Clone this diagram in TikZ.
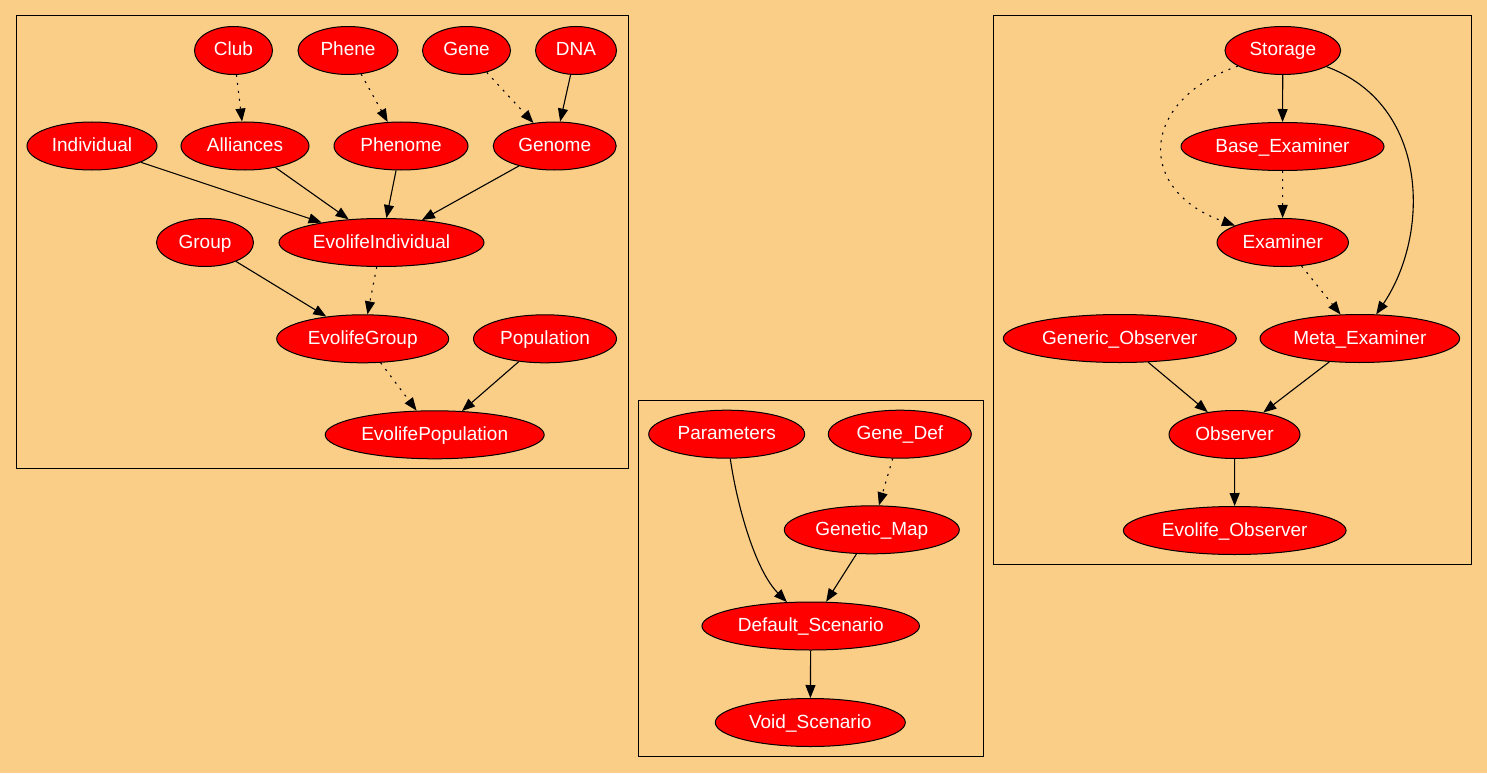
\documentclass[tikz,border=0pt]{standalone}
\usepackage{fontspec}
\setmainfont{Liberation Sans}
\usetikzlibrary{arrows.meta,shapes.geometric}
\definecolor{bgc}{RGB}{251,206,135}
\begin{document}
\begin{tikzpicture}[x=1pt,y=-1pt,
  nd/.style={ellipse, draw=black, line width=1pt, fill=red, text=white, inner sep=0pt,
    minimum height=48pt, text height=13.8pt, text depth=2.8pt,
    font=\fontsize{19}{22}\selectfont},
  ed/.style={line width=1.1pt, -{Triangle[length=13pt,width=10pt]}},
  dt/.style={ed, dash pattern=on 2pt off 6pt},
  cl/.style={draw=black, line width=0.9pt}]
\fill[bgc] (0,0) rectangle (1487,773);
\useasboundingbox (0,0) rectangle (1487,773);
% clusters
\draw[cl] (16,15) rectangle (628,468);
\draw[cl] (638,400) rectangle (983.7,756.7);
\draw[cl] (993.3,15) rectangle (1471,564.3);
% cluster 1 nodes
\node[nd, minimum width=78pt] (club) at (233.5,50.5) {Club};
\node[nd, minimum width=100pt] (phene) at (348,50.5) {Phene};
\node[nd, minimum width=88pt] (gene) at (466.5,50.5) {Gene};
\node[nd, minimum width=81pt] (dna) at (576,50.5) {DNA};
\node[nd, minimum width=130pt] (individual) at (92,146) {Individual};
\node[nd, minimum width=128pt] (alliances) at (245,146) {Alliances};
\node[nd, minimum width=134pt] (phenome) at (401,146) {Phenome};
\node[nd, minimum width=123pt] (genome) at (554.7,146) {Genome};
\node[nd, minimum width=97pt] (group) at (205,242.5) {Group};
\node[nd, minimum width=205pt] (evoind) at (381.5,242.5) {EvolifeIndividual};
\node[nd, minimum width=172pt] (evogroup) at (362.7,338.8) {EvolifeGroup};
\node[nd, minimum width=143pt] (population) at (545,338.8) {Population};
\node[nd, minimum width=219pt] (evopop) at (434.7,434.8) {EvolifePopulation};
% cluster 2 nodes
\node[nd, minimum width=156pt] (parameters) at (726.7,434.2) {Parameters};
\node[nd, minimum width=143pt] (genedef) at (899.8,434.2) {Gene\_Def};
\node[nd, minimum width=175pt] (geneticmap) at (871.8,529.8) {Genetic\_Map};
\node[nd, minimum width=217.5pt] (default) at (810.7,626) {Default\_Scenario};
\node[nd, minimum width=190pt] (void) at (810.3,722.5) {Void\_Scenario};
% cluster 3 nodes
\node[nd, minimum width=115.7pt] (storage) at (1282.8,50.5) {Storage};
\node[nd, minimum width=203pt] (baseex) at (1282.5,146.5) {Base\_Examiner};
\node[nd, minimum width=131.4pt] (examiner) at (1282.7,242.5) {Examiner};
\node[nd, minimum width=233pt] (generic) at (1119.8,338.5) {Generic\_Observer};
\node[nd, minimum width=199.6pt] (meta) at (1359.8,338.5) {Meta\_Examiner};
\node[nd, minimum width=131pt] (observer) at (1234.5,434.5) {Observer};
\node[nd, minimum width=222.7pt] (evoobs) at (1234.7,530.5) {Evolife\_Observer};
% cluster 1 edges
\draw[dt] (club) -- (alliances);
\draw[dt] (phene) -- (phenome);
\draw[dt] (gene) -- (genome);
\draw[ed] (dna) -- (genome);
\draw[ed] (individual) -- (evoind);
\draw[ed] (alliances) -- (evoind);
\draw[ed] (phenome) -- (evoind);
\draw[ed] (genome) -- (evoind);
\draw[ed] (group) -- (evogroup);
\draw[dt] (evoind) -- (evogroup);
\draw[dt] (evogroup) -- (evopop);
\draw[ed] (population) -- (evopop);
% cluster 2 edges
\draw[ed] (parameters) .. controls (737,505) and (755,570) .. (default);
\draw[dt] (genedef) -- (geneticmap);
\draw[ed] (geneticmap) -- (default);
\draw[ed] (default) -- (void);
% cluster 3 edges
\draw[ed] (storage) -- (baseex);
\draw[dt] (baseex) -- (examiner);
\draw[dt] (storage) .. controls (1140,100) and (1135,190) .. (examiner);
\draw[ed] (storage) .. controls (1430,105) and (1430,235) .. (meta);
\draw[dt] (examiner) -- (meta);
\draw[ed] (generic) -- (observer);
\draw[ed] (meta) -- (observer);
\draw[ed] (observer) -- (evoobs);
\end{tikzpicture}
\end{document}
